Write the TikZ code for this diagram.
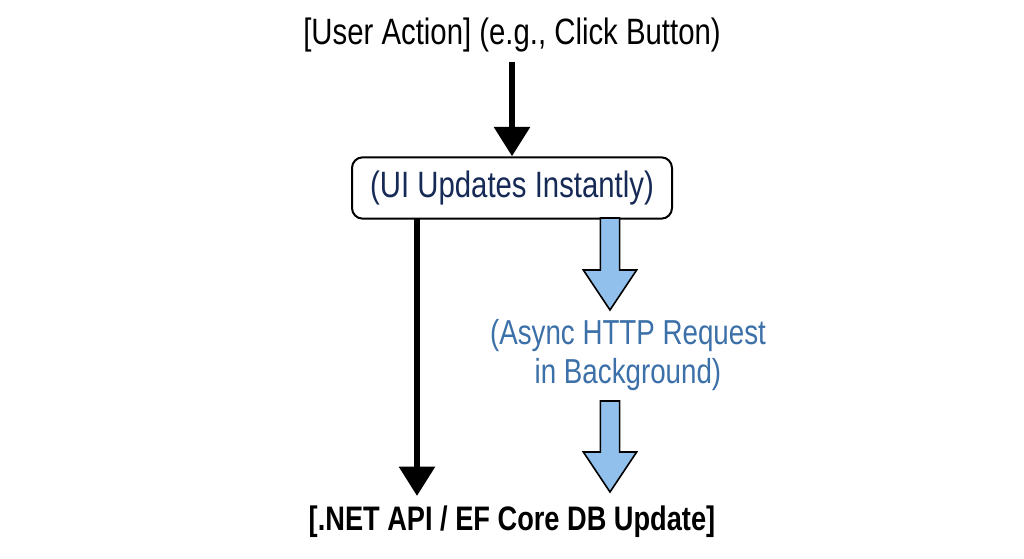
\documentclass[tikz,border=0pt]{standalone}
\usepackage{fontspec}
\setmainfont{Liberation Sans}[FakeStretch=0.8]
\usetikzlibrary{arrows.meta,positioning,calc}

\definecolor{uinavy}{RGB}{22,42,86}
\definecolor{asyncblue}{RGB}{60,112,168}
\definecolor{arrowfill}{RGB}{146,192,236}

% fat blue arrow between two named points
\newcommand{\fatarrow}[2]{%
  \draw[fatarrow] let \p1=(#1), \p2=(#2) in
    (\x1-7.2pt,\y1) -- (\x1+7.2pt,\y1) -- (\x1+7.2pt,\y2+30pt)
    -- (\x1+20pt,\y2+30pt) -- (\x2,\y2) -- (\x1-20pt,\y2+30pt)
    -- (\x1-7.2pt,\y2+30pt) -- cycle;}

\begin{document}
\begin{tikzpicture}[x=0.75pt,y=-0.75pt,
  every node/.style={inner sep=0pt, font=\fontsize{27.5}{32}\selectfont},
  uibox/.style={draw, line width=1.5pt, rounded corners=8pt, fill=white,
    minimum width=240pt, minimum height=46pt, text=uinavy},
  asynctext/.style={text=asyncblue, align=center, font=\fontsize{26}{29}\selectfont},
  dbtext/.style={font=\fontsize{25.5}{30}\selectfont\bfseries},
  flow/.style={line width=5pt, -{Triangle[length=22pt,width=26pt]}},
  fatarrow/.style={draw=black, line width=1.2pt, fill=arrowfill, line join=miter}
]
\useasboundingbox (0,0) rectangle (1024,559);

\node (action) at (512,35) {[User Action] (e.g., Click Button)};
\node[uibox] (ui) at (512,188) {(UI Updates Instantly)};
\node[asynctext] (async) at (628,355) {(Async HTTP Request\\in Background)};
\node[dbtext] (db) at (512,522) {[.NET API / EF Core DB Update]};

\coordinate (b0) at (512,62);
\coordinate (b1) at (417,218);
\coordinate (b2) at (417,496);
\coordinate (a1s) at (610,218);
\coordinate (a1e) at (610,310);
\coordinate (a2s) at (610,401);
\coordinate (a2e) at (610,492);

\draw[flow] (b0) -- (ui.north);
\draw[flow] (b1) -- (b2);
\fatarrow{a1s}{a1e}
\fatarrow{a2s}{a2e}

\end{tikzpicture}
\end{document}
